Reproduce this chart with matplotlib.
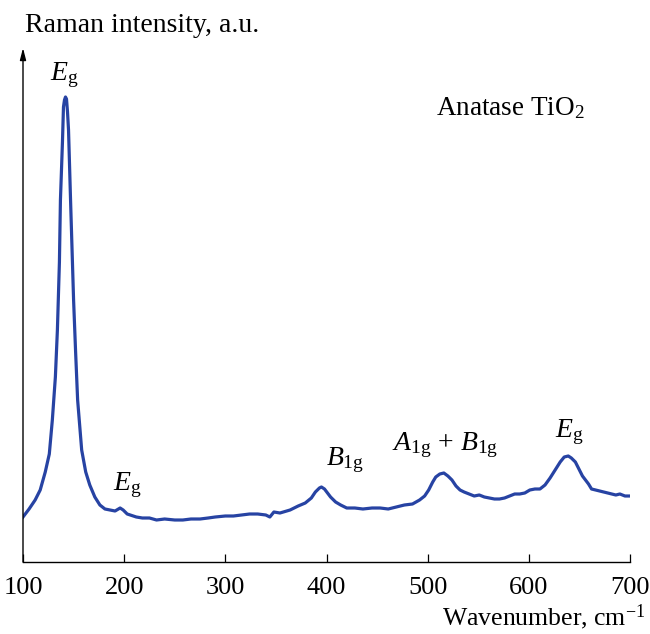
import numpy as np
import matplotlib.pyplot as plt

# Raman spectrum of anatase TiO2
wavenumber = [100, 106, 112, 117, 122, 126, 129, 132, 134, 136, 137, 139, 140, 141, 142, 143,
              144, 145, 147, 150, 152, 154, 158, 162, 166, 171, 176, 181, 186, 191, 196, 199,
              203, 206, 212, 218, 225, 232, 240, 250, 258, 266, 275, 283, 290, 300, 308, 316,
              324, 332, 340, 344, 348, 354, 364, 372, 379, 385, 389, 393, 395, 398, 401, 404,
              409, 414, 420, 428, 436, 445, 453, 461, 469, 477, 485, 492, 497, 501, 505, 508,
              512, 516, 520, 524, 528, 532, 536, 541, 546, 551, 556, 561, 566, 571, 576, 581,
              586, 591, 596, 601, 606, 611, 616, 621, 626, 631, 635, 639, 642, 646, 650, 653,
              656, 659, 662, 666, 670, 674, 678, 682, 686, 690, 695, 700]
intensity = [45, 53, 62, 72, 90, 108, 142, 185, 232, 300, 362, 420, 455, 462, 465, 463,
             450, 432, 362, 262, 210, 162, 112, 90, 77, 65, 57, 53, 52, 51, 54, 52,
             48, 47, 45, 44, 44, 42, 43, 42, 42, 43, 43, 44, 45, 46, 46, 47,
             48, 48, 47, 45, 50, 49, 52, 56, 59, 64, 70, 74, 75, 73, 69, 65,
             60, 57, 54, 54, 53, 54, 54, 53, 55, 57, 58, 62, 66, 72, 80, 85,
             88, 89, 86, 82, 76, 72, 70, 68, 66, 67, 65, 64, 63, 63, 64, 66,
             68, 68, 69, 72, 73, 73, 77, 84, 92, 100, 105, 106, 104, 100, 92, 86,
             82, 78, 73, 72, 71, 70, 69, 68, 67, 68, 66, 66]

xticks = [100, 200, 300, 400, 500, 600, 700]

plt.rcParams['font.family'] = 'Liberation Serif'
plt.rcParams['mathtext.fontset'] = 'custom'
plt.rcParams['mathtext.rm'] = 'Liberation Serif'
plt.rcParams['mathtext.it'] = 'Liberation Serif:italic'

fig = plt.figure(figsize=(6.5, 6.34), dpi=100)
ax = fig.add_axes([23/650, 1 - 562/634, 607/650, 514/634])

ax.plot(wavenumber, intensity, color='#2743a3', lw=2.3, solid_joinstyle='round')

ax.set_xlim(100, 700)
ax.set_ylim(0, 514)
ax.set_xticks(xticks)
ax.set_yticks([])
ax.tick_params(axis='x', direction='in', length=6, width=0.9, labelsize=19, pad=11)
for s in ['top', 'right', 'left']:
    ax.spines[s].set_visible(False)
ax.spines['bottom'].set_linewidth(1.0)

# y axis with arrow
ax.annotate('', xy=(0, 1.0), xytext=(0, 0), xycoords='axes fraction',
            arrowprops=dict(arrowstyle='-|>,head_length=0.7,head_width=0.18',
                            color='black', lw=1.0, shrinkA=0, shrinkB=0))

fig.text(25/650, 1 - 25/634, 'Raman intensity, a.u.', fontsize=20, va='center', ha='left')
fig.text(645/650, 1 - 617/634, r'Wavenumber, cm$^{-1}$', fontsize=18.5, va='center', ha='right')

lab = dict(fontsize=20, ha='center', va='center')
ax.text(141, 562 - 75, r'$E_\mathrm{g}$', **lab)
ax.text(203, 562 - 485, r'$E_\mathrm{g}$', **lab)
ax.text(418, 562 - 460, r'$B_\mathrm{1g}$', **lab)
ax.text(517, 562 - 445, r'$A_\mathrm{1g}$ + $B_\mathrm{1g}$', **lab)
ax.text(640, 562 - 432, r'$E_\mathrm{g}$', **lab)
ax.text(582, 562 - 108, r'Anatase TiO$_2$', fontsize=19.5, ha='center', va='center')

fig.savefig('out.png', dpi=100)
